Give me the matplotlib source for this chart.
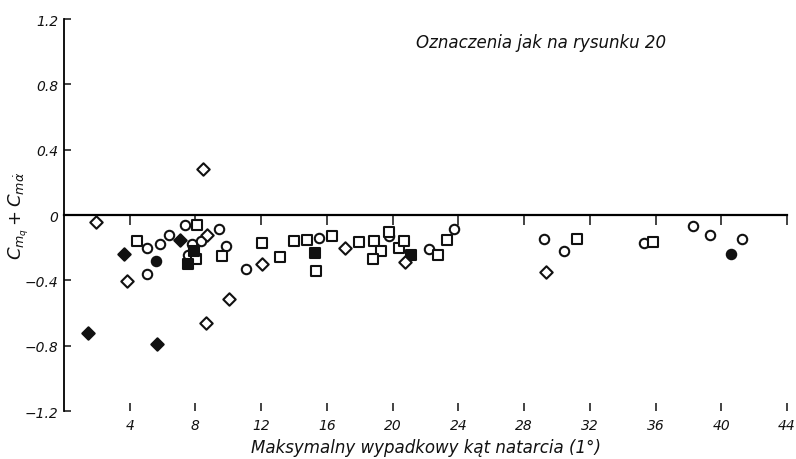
import matplotlib
matplotlib.use("Agg")
import matplotlib.pyplot as plt

# (x, y) pairs, grouped by marker type
open_circle_x = [5.07, 5.85, 6.41, 7.35, 7.8, 5.07, 7.53, 8.32, 9.42, 9.85, 11.06,
                 15.51, 19.8, 22.23, 23.73, 29.2, 30.45, 35.3, 38.27, 39.32, 41.25]
open_circle_y = [-0.20, -0.18, -0.12, -0.06, -0.18, -0.36, -0.245, -0.16, -0.085, -0.19, -0.33,
                 -0.14, -0.13, -0.21, -0.085, -0.145, -0.22, -0.17, -0.07, -0.12, -0.145]

filled_circle_x = [5.6, 40.6]
filled_circle_y = [-0.28, -0.24]

open_square_x = [4.47, 8.1, 8.04, 9.62, 12.02, 13.17, 13.99, 14.8, 15.35, 16.34, 17.98,
                 18.84, 19.3, 18.8, 19.8, 20.38, 20.69, 22.78, 23.3, 31.24, 35.87]
open_square_y = [-0.16, -0.06, -0.27, -0.25, -0.17, -0.26, -0.16, -0.15, -0.345, -0.13, -0.165,
                 -0.16, -0.22, -0.27, -0.105, -0.2, -0.16, -0.245, -0.15, -0.145, -0.165]

filled_square_x = [7.53, 7.9, 15.29, 21.13]
filled_square_y = [-0.30, -0.22, -0.235, -0.245]

open_diamond_x = [8.45, 1.93, 3.84, 8.69, 12.02, 10.05, 8.63, 17.11, 20.75, 29.34]
open_diamond_y = [0.28, -0.04, -0.405, -0.12, -0.30, -0.515, -0.66, -0.20, -0.29, -0.35]

filled_diamond_x = [3.67, 7.06, 1.48, 5.64]
filled_diamond_y = [-0.24, -0.155, -0.725, -0.79]

x_ticks = [4, 8, 12, 16, 20, 24, 28, 32, 36, 40, 44]
y_ticks = [-1.2, -0.8, -0.4, 0, 0.4, 0.8, 1.2]
y_tick_labels = ["\u22121.2", "\u22120.8", "\u22120.4", "0", "0.4", "0.8", "1.2"]

INK = "#111111"
FONT = dict(family="DejaVu Sans", style="italic")

fig = plt.figure(figsize=(7.96, 4.60), dpi=100)
ax = fig.add_axes([0.0804, 0.1043, 0.9083, 0.8522])
ax.set_xlim(0, 44)
ax.set_ylim(-1.2, 1.2)

common = dict(s=46, linewidths=1.5, zorder=3)
ax.scatter(open_circle_x, open_circle_y, marker="o", facecolors="white", edgecolors=INK, **common)
ax.scatter(filled_circle_x, filled_circle_y, marker="o", facecolors=INK, edgecolors=INK, **common)
ax.scatter(open_square_x, open_square_y, marker="s", facecolors="white", edgecolors=INK, **common)
ax.scatter(filled_square_x, filled_square_y, marker="s", facecolors=INK, edgecolors=INK, **common)
ax.scatter(open_diamond_x, open_diamond_y, marker="D", facecolors="white", edgecolors=INK, s=40,
           linewidths=1.5, zorder=3)
ax.scatter(filled_diamond_x, filled_diamond_y, marker="D", facecolors=INK, edgecolors=INK, s=40,
           linewidths=1.5, zorder=3)

# frame: left axis, zero line with upward ticks, bare ticks at the bottom
ax.spines["right"].set_visible(False)
ax.spines["bottom"].set_visible(False)
ax.spines["left"].set_linewidth(1.3)
ax.spines["top"].set_position(("data", 0))
ax.spines["top"].set_linewidth(1.6)

ax.set_xticks(x_ticks)
ax.set_xticklabels([str(t) for t in x_ticks], fontsize=10, **FONT)
ax.tick_params(axis="x", which="both", bottom=True, top=True, labelbottom=True, labeltop=False,
               direction="in", length=6, width=1.1, colors=INK, pad=5)
for t in ax.xaxis.get_major_ticks():
    t.tick2line.set_marker(3)  # upward tick on the zero line
    t.tick2line.set_markersize(7)

ax.set_yticks(y_ticks)
ax.set_yticklabels(y_tick_labels, fontsize=10, **FONT)
ax.tick_params(axis="y", direction="in", length=5, width=1.1, colors=INK, pad=4)

ax.set_xlabel("Maksymalny wypadkowy kąt natarcia (1°)", fontsize=12, labelpad=4, color=INK, **FONT)
ax.set_ylabel(r"$C_{m_q}+C_{m\dot{\alpha}}$", fontsize=13, color=INK)
ax.yaxis.set_label_coords(-0.045, 0.5)

ax.text(21.4, 1.06, "Oznaczenia jak na rysunku 20", fontsize=12, color=INK, va="center", **FONT)

fig.savefig("out.png", dpi=100, facecolor="white")
